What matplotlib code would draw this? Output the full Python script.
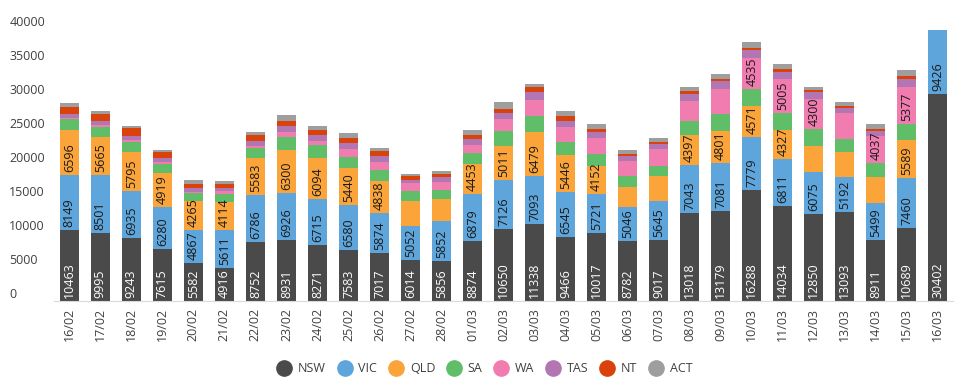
import matplotlib.pyplot as plt
from matplotlib.lines import Line2D
import numpy as np

dates = ['16/02', '17/02', '18/02', '19/02', '20/02', '21/02', '22/02', '23/02', '24/02',
         '25/02', '26/02', '27/02', '28/02', '01/03', '02/03', '03/03', '04/03', '05/03',
         '06/03', '07/03', '08/03', '09/03', '10/03', '11/03', '12/03', '13/03', '14/03',
         '15/03', '16/03']

nsw = [10463, 9995, 9243, 7615, 5582, 4916, 8752, 8931, 8271, 7583, 7017, 6014, 5856, 8874,
       10650, 11338, 9466, 10017, 8782, 9017, 13018, 13179, 16288, 14034, 12850, 13093, 8911,
       10689, 30402]
vic = [8149, 8501, 6935, 6280, 4867, 5611, 6786, 6926, 6715, 6580, 5874, 5052, 5852, 6879,
       7126, 7093, 6545, 5721, 5046, 5645, 7043, 7081, 7779, 6811, 6075, 5192, 5499, 7460, 9426]
qld = [6596, 5665, 5795, 4919, 4265, 4114, 5583, 6300, 6094, 5440, 4838, 3680, 3240, 4453,
       5011, 6479, 5446, 4152, 2950, 3680, 4397, 4801, 4571, 4327, 3950, 3680, 3830, 5589, 0]
sa = [1520, 1470, 1470, 1370, 1130, 1080, 1330, 1960, 1820, 1570, 1620, 1470, 1420, 1570,
      2210, 2360, 1960, 1770, 1620, 1570, 2010, 2410, 2550, 2460, 2500, 1910, 2060, 2360, 0]
wa = [150, 200, 250, 300, 250, 490, 290, 740, 640, 1130, 1180, 1080, 1130, 1180, 1770, 2360,
      2260, 2360, 2260, 2400, 3000, 3780, 4535, 5005, 4300, 3730, 4037, 5377, 0]
tas = [590, 590, 630, 530, 490, 390, 830, 830, 830, 930, 740, 540, 690, 880, 880, 1180, 830,
       830, 690, 740, 930, 1180, 1230, 1130, 1030, 830, 740, 1180, 0]
nt = [1080, 1030, 1080, 880, 690, 690, 790, 790, 740, 740, 740, 490, 490, 640, 590, 640, 790,
      490, 290, 290, 540, 250, 290, 340, 340, 200, 290, 440, 0]
act = [640, 490, 390, 340, 540, 390, 490, 930, 590, 790, 440, 440, 390, 640, 980, 490, 640,
       740, 590, 590, 540, 690, 830, 740, 490, 690, 740, 880, 0]

states = ['NSW', 'VIC', 'QLD', 'SA', 'WA', 'TAS', 'NT', 'ACT']
series = [nsw, vic, qld, sa, wa, tas, nt, act]
colors = ['#4a4a4a', '#5da5da', '#faa43a', '#60bd68', '#f17cb0', '#b276b2', '#d9420b', '#9e9e9e']
labelled = {'NSW': 'white', 'VIC': '#1a1a1a', 'QLD': '#1a1a1a', 'WA': '#1a1a1a'}

plt.rcParams['font.family'] = ['Open Sans', 'DejaVu Sans']
text_color = '#404040'

fig = plt.figure(figsize=(9.61, 3.84), dpi=100)
ax = fig.add_axes([0.056, 0.216, 0.936, 0.708])

x = np.arange(len(dates))
bottom = np.zeros(len(dates))
for name, vals, col in zip(states, series, colors):
    vals = np.array(vals, dtype=float)
    ax.bar(x, vals, 0.61, bottom=bottom, color=col, linewidth=0)
    if name in labelled:
        for xi, v, b in zip(x, vals, bottom):
            if v >= 4000:
                ax.annotate(str(int(v)), (xi, b), xytext=(0, 3), textcoords='offset pixels',
                            rotation=90, ha='center', va='bottom', fontsize=9,
                            color=labelled[name])
    bottom += vals

ax.set_xlim(-0.5, len(dates) - 0.5)
ax.set_ylim(0, 40000)
ax.set_yticks(range(0, 40001, 5000))
ax.set_xticks(x)
ax.set_xticklabels(dates, rotation=90)
ax.tick_params(axis='both', length=0, labelsize=9, colors=text_color)
ax.tick_params(axis='y', pad=32)
ax.tick_params(axis='x', pad=5)
plt.setp(ax.get_yticklabels(), ha='left', va='bottom')

for side in ['top', 'right', 'left']:
    ax.spines[side].set_visible(False)
ax.spines['bottom'].set_color('#d9d9d9')

handles = [Line2D([], [], marker='o', linestyle='none', markersize=11,
                  markerfacecolor=c, markeredgecolor=c) for c in colors]
fig.legend(handles, states, loc='center', bbox_to_anchor=(0.505, 0.04), ncol=8,
           frameon=False, fontsize=9, handletextpad=0.6, columnspacing=1.0,
           labelcolor=text_color, handlelength=1.0)

fig.savefig('out.png', dpi=100)
